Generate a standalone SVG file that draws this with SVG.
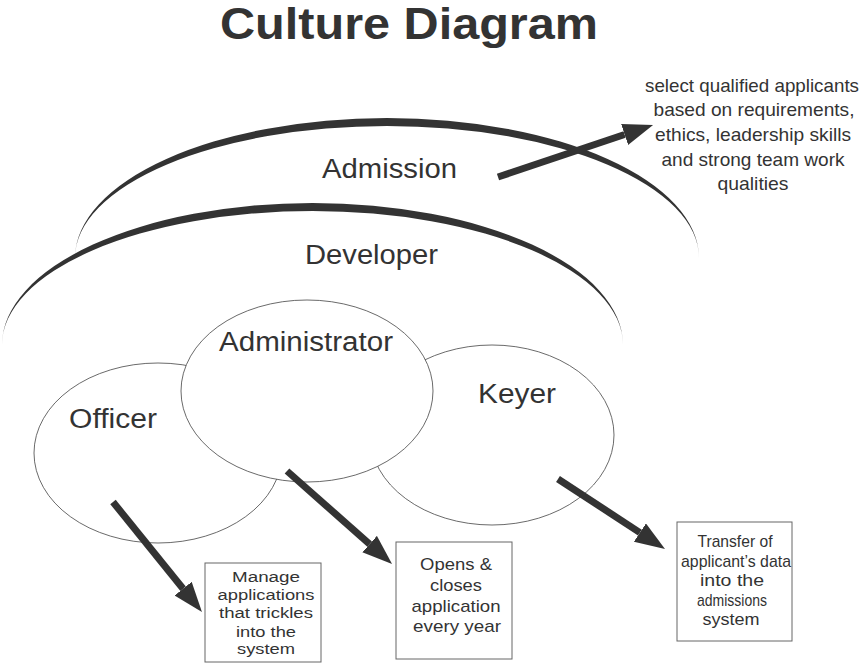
<svg xmlns="http://www.w3.org/2000/svg" width="861" height="663" viewBox="0 0 861 663">
<style>
text{font-family:"Liberation Sans",Arial,sans-serif;fill:#333;}
.title{font-size:44px;font-weight:bold;text-anchor:middle;}
.lbl{font-size:27px;}
.note{font-size:19px;text-anchor:middle;}
.b1{font-size:15.5px;text-anchor:middle;}
.b2{font-size:17px;text-anchor:middle;}
.arc{fill:#333;stroke:none;}
.ell{fill:#fff;stroke:#444;stroke-width:0.8;}
.box{fill:#fff;stroke:#666;stroke-width:1;}
.con{stroke:#333;stroke-width:7;fill:none;marker-end:url(#ah);}
</style>
<defs>
<marker id="ah" markerUnits="userSpaceOnUse" markerWidth="32" markerHeight="24" refX="0" refY="11" orient="auto">
<path d="M0,0 L30,11 L0,22 Z" fill="#333"/>
</marker>
</defs>
<rect width="861" height="663" fill="#fff"/>
<text class="title" x="409" y="39" textLength="378" lengthAdjust="spacingAndGlyphs">Culture Diagram</text>

<g id="admission">
<path class="arc" d="M75,258 A312,140 0 0 1 699,258 A312,132 0 0 0 75,258 Z"/>
<text class="lbl" x="322" y="178" textLength="135" lengthAdjust="spacingAndGlyphs">Admission</text>
</g>
<g id="developer">
<path class="arc" d="M2,345 A310.5,142 0 0 1 623,345 A310.5,134 0 0 0 2,345 Z"/>
<text class="lbl" x="305" y="264" textLength="133" lengthAdjust="spacingAndGlyphs">Developer</text>
</g>
<g id="officer">
<ellipse class="ell" cx="158" cy="453" rx="124" ry="90"/>
<text class="lbl" x="69" y="428" textLength="88" lengthAdjust="spacingAndGlyphs">Officer</text>
</g>
<g id="keyer">
<ellipse class="ell" cx="492" cy="435" rx="122" ry="90"/>
<text class="lbl" x="478" y="403" textLength="78" lengthAdjust="spacingAndGlyphs">Keyer</text>
</g>
<g id="administrator">
<ellipse class="ell" cx="307" cy="391" rx="126" ry="91"/>
<text class="lbl" x="219" y="351" textLength="174" lengthAdjust="spacingAndGlyphs">Administrator</text>
</g>

<g id="connectors">
<path class="con" d="M498,177 L624.6,134.5"/>
<path class="con" d="M113,502 L183.1,588.7"/>
<path class="con" d="M287,471 L369.6,544.1"/>
<path class="con" d="M558,479 L639.9,532.6"/>
</g>

<g id="note-admission">
<text class="note" x="752" y="92" textLength="214" lengthAdjust="spacingAndGlyphs">select qualified applicants</text>
<text class="note" x="754" y="116" textLength="201" lengthAdjust="spacingAndGlyphs">based on requirements,</text>
<text class="note" x="753" y="141" textLength="196" lengthAdjust="spacingAndGlyphs">ethics, leadership skills</text>
<text class="note" x="753" y="166" textLength="183" lengthAdjust="spacingAndGlyphs">and strong team work</text>
<text class="note" x="753" y="190" textLength="71" lengthAdjust="spacingAndGlyphs">qualities</text>
</g>

<g id="box-officer">
<rect class="box" x="205" y="563" width="116" height="99"/>
<text class="b1" x="266" y="582" textLength="68" lengthAdjust="spacingAndGlyphs">Manage</text>
<text class="b1" x="266" y="600" textLength="97" lengthAdjust="spacingAndGlyphs">applications</text>
<text class="b1" x="266" y="618" textLength="94" lengthAdjust="spacingAndGlyphs">that trickles</text>
<text class="b1" x="266" y="637" textLength="60" lengthAdjust="spacingAndGlyphs">into the</text>
<text class="b1" x="266" y="654" textLength="58" lengthAdjust="spacingAndGlyphs">system</text>
</g>

<g id="box-administrator">
<rect class="box" x="396" y="542" width="116" height="117"/>
<text class="b2" x="456" y="570" textLength="72" lengthAdjust="spacingAndGlyphs">Opens &amp;</text>
<text class="b2" x="456" y="591" textLength="52" lengthAdjust="spacingAndGlyphs">closes</text>
<text class="b2" x="456" y="612" textLength="89" lengthAdjust="spacingAndGlyphs">application</text>
<text class="b2" x="457" y="632" textLength="88" lengthAdjust="spacingAndGlyphs">every year</text>
</g>

<g id="box-keyer">
<rect class="box" x="677" y="522" width="115" height="119"/>
<text class="b2" x="735" y="547" textLength="75" lengthAdjust="spacingAndGlyphs">Transfer of</text>
<text class="b2" x="736" y="567" textLength="110" lengthAdjust="spacingAndGlyphs">applicant’s data</text>
<text class="b2" x="732" y="586" textLength="64" lengthAdjust="spacingAndGlyphs">into the</text>
<text class="b2" x="732" y="606" textLength="70" lengthAdjust="spacingAndGlyphs">admissions</text>
<text class="b2" x="731" y="625" textLength="57" lengthAdjust="spacingAndGlyphs">system</text>
</g>
</svg>
